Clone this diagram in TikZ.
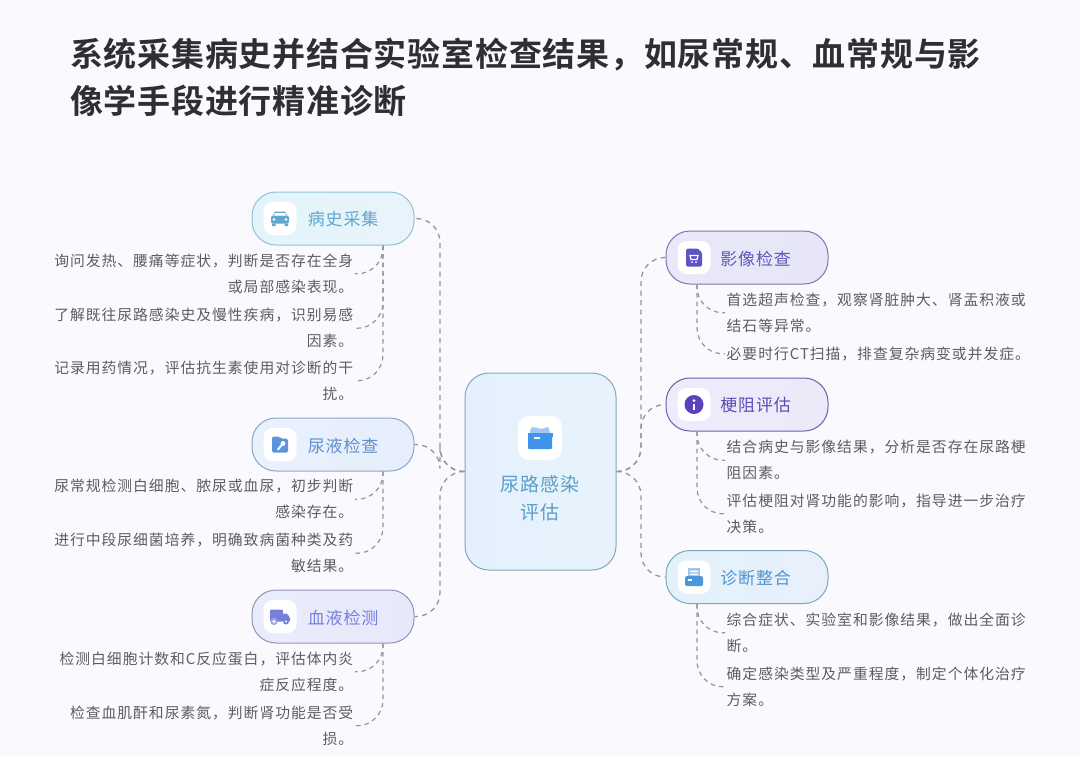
\documentclass[tikz,border=0pt]{standalone}
\usepackage{fontspec}
\usepackage{xcolor}
\usepackage{tikz}
\usetikzlibrary{positioning,calc}
\newfontfamily\bodycjk[LetterSpace=6.7]{Noto Sans CJK SC}
\newfontfamily\labelcjk[LetterSpace=5]{Noto Sans CJK SC}
\newfontfamily\titlecjk[LetterSpace=2.3]{Noto Sans CJK SC Bold}
\definecolor{pagebg}{HTML}{FAFAFE}
\definecolor{titleink}{HTML}{2E2E33}
\definecolor{leafink}{HTML}{5C5C62}
\definecolor{linkgray}{HTML}{94949A}
\definecolor{carblue}{HTML}{5FA8CC}
\definecolor{urineblue}{HTML}{5E93DC}
\definecolor{bloodblue}{HTML}{7580DC}
\definecolor{imgpurple}{HTML}{5E54C4}
\definecolor{blockpurple}{HTML}{5A42BC}
\definecolor{sumblue}{HTML}{4A97DC}
\definecolor{rootblue}{HTML}{3F93E8}
\definecolor{rootink}{HTML}{5B9FC8}
\definecolor{histA}{HTML}{E2F4FB}
\definecolor{histB}{HTML}{EAF3FB}
\definecolor{histline}{HTML}{8FC3D6}
\definecolor{urineA}{HTML}{E8F1FC}
\definecolor{urineB}{HTML}{E6EEFB}
\definecolor{urineline}{HTML}{8BA7C6}
\definecolor{bloodA}{HTML}{E9EDFB}
\definecolor{bloodB}{HTML}{E8E8FA}
\definecolor{bloodline}{HTML}{8F94BC}
\definecolor{imgA}{HTML}{E8E8F8}
\definecolor{imgB}{HTML}{E6E6F8}
\definecolor{imgline}{HTML}{7C78B2}
\definecolor{blockA}{HTML}{EEEBFA}
\definecolor{blockB}{HTML}{ECE9F9}
\definecolor{blockline}{HTML}{6E5FA8}
\definecolor{sumA}{HTML}{E3F1FB}
\definecolor{sumB}{HTML}{E8F0FB}
\definecolor{sumline}{HTML}{7FA6BC}
\definecolor{rootA}{HTML}{E4F1FC}
\definecolor{rootB}{HTML}{E7F2FC}
\definecolor{rootline}{HTML}{7FAAB8}
\tikzset{
  caricon/.pic={
    \fill[carblue] (-7,-3) -- (-5,-7) -- (5,-7) -- (7,-3) -- cycle;
    \fill[carblue,rounded corners=1.5pt] (-9,-3) rectangle (9,5);
    \fill[white] (-5,-5.5) -- (5,-5.5) -- (6,-3) -- (-6,-3) -- cycle;
    \fill[white] (-6,1) circle (1.4) (6,1) circle (1.4);
    \fill[carblue] (-8,5) rectangle (-4.5,7.5) (4.5,5) rectangle (8,7.5);
  },
  foldericon/.pic={
    \fill[urineblue,rounded corners=1.5pt] (-8,-8) -- (-1,-8) -- (1,-6) -- (8,-6) -- (8,8) -- (-8,8) -- cycle;
    \draw[white,line width=2pt,line cap=round] (-2,5) -- (2,0);
    \fill[white] (3,-1) circle (2.4);
  },
  truckicon/.pic={
    \fill[bloodblue,rounded corners=1pt] (-10,-7) rectangle (3,5);
    \fill[bloodblue,rounded corners=1pt] (3,-3) -- (7,-3) -- (10,1) -- (10,5) -- (3,5) -- cycle;
    \fill[bloodblue!70] (-6,5) circle (3.6);
    \fill[white] (-6,5) circle (1.6);
    \fill[bloodblue] (6,5) circle (3);
    \fill[white] (6,5) circle (1.2);
  },
  carticon/.pic={
    \fill[imgpurple,rounded corners=1.5pt] (-8,-9) -- (4,-9) -- (8,-5) -- (8,9) -- (-8,9) -- cycle;
    \draw[white,line width=1.2pt] (-4,-2) -- (4,-2) -- (3,2) -- (-3,2) -- cycle;
    \fill[white] (-2,4.5) circle (1) (2,4.5) circle (1);
  },
  infoicon/.pic={
    \fill[blockpurple] (0,0) circle (9.5);
    \fill[white] (0,-4) circle (1.5);
    \fill[white] (-1.3,-1) rectangle (1.3,5);
  },
  trayicon/.pic={
    \fill[sumblue!55] (-6,-9) rectangle (6,0);
    \fill[white] (-4,-6.5) rectangle (4,-5) (-4,-3.5) rectangle (4,-2);
    \fill[sumblue,rounded corners=1.5pt] (-9,-1) rectangle (9,9);
    \fill[white] (-6,2) rectangle (-2,3.5);
  },
  rooticon/.pic={
    \fill[rootblue!50] (-10,-7) -- (-8,-11) -- (-2,-10) -- (1,-9) -- (8,-11) -- (10,-6) -- (10,0) -- (-10,0) -- cycle;
    \fill[rootblue] (-12.5,-5) rectangle (12.5,-1);
    \fill[rootblue,rounded corners=1pt] (-12,-3) rectangle (12,11);
    \fill[white] (-6,-1) rectangle (0,1);
  },
}
\begin{document}
\begin{tikzpicture}[
  x=1pt,y=-1pt,
  pill/.style={draw,line width=1pt,rounded corners=24pt,minimum width=162pt,minimum height=53pt,inner sep=0pt},
  iconbox/.style={fill=white,rounded corners=9pt,minimum size=33pt,inner sep=0pt},
  pilltext/.style={inner sep=0pt,yshift=-1pt,font=\labelcjk\fontsize{17}{20}\selectfont},
  leafl/.style={anchor=east,align=right,inner xsep=1.5pt,inner ysep=0pt,yshift=-0.8pt,text=leafink,font=\bodycjk\fontsize{14.8}{26}\selectfont},
  leafr/.style={anchor=west,align=left,inner xsep=1.5pt,inner ysep=0pt,yshift=-0.8pt,text=leafink,font=\bodycjk\fontsize{14.8}{26}\selectfont},
  trunk/.style={draw=linkgray,dash pattern=on 5pt off 4.5pt,line width=1.3pt,rounded corners=24pt},
  twig/.style={draw=linkgray,dash pattern=on 4.5pt off 4pt,line width=1.2pt,rounded corners=26pt},
]
\fill[pagebg] (0,0) rectangle (1080,756);

\node[anchor=north west,align=left,inner sep=0pt,text=titleink,font=\titlecjk\fontsize{33}{47}\selectfont] (title) at (70,38)
  {系统采集病史并结合实验室检查结果，如尿常规、血常规与影\\像学手段进行精准诊断};

\node[draw=rootline,left color=rootA,right color=rootB,line width=1pt,rounded corners=24pt,minimum width=151pt,minimum height=197pt,inner sep=0pt] (root) at (540.5,471.5) {};
\node[iconbox,minimum size=44pt,rounded corners=11pt] (rootbox) at (540,438) {};
\pic at (rootbox.center) {rooticon};
\node[below=15pt of rootbox,align=center,inner sep=0pt,text=rootink,font=\labelcjk\fontsize{19}{28}\selectfont] (rootlabel) {尿路感染\\评估};

\node[pill,draw=histline,left color=histA,right color=histB] (history) at (333,218.5) {};
\node[iconbox] (historybox) at (280,218.5) {};
\pic at (historybox.center) {caricon};
\node[pilltext,right=11pt of historybox,text=carblue] {病史采集};

\node[pill,draw=urineline,left color=urineA,right color=urineB] (urine) at (333,444.5) {};
\node[iconbox] (urinebox) at (280,444.5) {};
\pic at (urinebox.center) {foldericon};
\node[pilltext,right=11pt of urinebox,text=urineblue!85!gray] {尿液检查};

\node[pill,draw=bloodline,left color=bloodA,right color=bloodB] (blood) at (333,616.5) {};
\node[iconbox] (bloodbox) at (280,616.5) {};
\pic at (bloodbox.center) {truckicon};
\node[pilltext,right=11pt of bloodbox,text=bloodblue] {血液检测};

\node[pill,draw=imgline,left color=imgA,right color=imgB] (imaging) at (747,257.5) {};
\node[iconbox] (imagingbox) at (694,257.5) {};
\pic at (imagingbox.center) {carticon};
\node[pilltext,right=9.5pt of imagingbox,text=imgpurple!90!gray] {影像检查};

\node[pill,draw=blockline,left color=blockA,right color=blockB] (block) at (747,404.5) {};
\node[iconbox] (blockbox) at (694,404.5) {};
\pic at (blockbox.center) {infoicon};
\node[pilltext,right=9.5pt of blockbox,text=blockpurple!85!gray] {梗阻评估};

\node[pill,draw=sumline,left color=sumA,right color=sumB] (summary) at (747,577) {};
\node[iconbox] (summarybox) at (694,577) {};
\pic at (summarybox.center) {trayicon};
\node[pilltext,right=9.5pt of summarybox,text=sumblue!90!gray] {诊断整合};

\node[leafl] (h1) at (355,273) {询问发热、腰痛等症状，判断是否存在全身\\或局部感染表现。};
\node[leafl] (h2) at (355,327.5) {了解既往尿路感染史及慢性疾病，识别易感\\因素。};
\node[leafl] (h3) at (355,380) {记录用药情况，评估抗生素使用对诊断的干\\扰。};
\node[leafl] (u1) at (355,498.5) {尿常规检测白细胞、脓尿或血尿，初步判断\\感染存在。};
\node[leafl] (u2) at (355,552.5) {进行中段尿细菌培养，明确致病菌种类及药\\敏结果。};
\node[leafl] (b1) at (355,671) {检测白细胞计数和C反应蛋白，评估体内炎\\症反应程度。};
\node[leafl] (b2) at (355,725) {检查血肌酐和尿素氮，判断肾功能是否受\\损。};

\node[leafr] (i1) at (725,312) {首选超声检查，观察肾脏肿大、肾盂积液或\\结石等异常。};
\node[leafr] (i2) at (725,353) {必要时行CT扫描，排查复杂病变或并发症。};
\node[leafr] (k1) at (725,459.5) {结合病史与影像结果，分析是否存在尿路梗\\阻因素。};
\node[leafr] (k2) at (725,513) {评估梗阻对肾功能的影响，指导进一步治疗\\决策。};
\node[leafr] (s1) at (725,632) {综合症状、实验室和影像结果，做出全面诊\\断。};
\node[leafr] (s2) at (725,686) {确定感染类型及严重程度，制定个体化治疗\\方案。};

\coordinate (trunkl) at (440,471.5);
\coordinate (trunkr) at (641,471.5);

\draw[trunk] (root.west) -- (trunkl) |- (history.east);
\draw[trunk] (root.west) -- (trunkl) |- (urine.east);
\draw[trunk] (root.west) -- (trunkl) |- (blood.east);
\draw[trunk] (root.east) -- (trunkr) |- (imaging.west);
\draw[trunk] (root.east) -- (trunkr) |- (block.west);
\draw[trunk] (root.east) -- (trunkr) |- (summary.west);

\draw[twig] ([xshift=50pt]history.south) |- (h1.east);
\draw[twig] ([xshift=50pt]history.south) |- (h2.east);
\draw[twig] ([xshift=50pt]history.south) |- (h3.east);
\draw[twig] ([xshift=50pt]urine.south) |- (u1.east);
\draw[twig] ([xshift=50pt]urine.south) |- (u2.east);
\draw[twig] ([xshift=50pt]blood.south) |- (b1.east);
\draw[twig] ([xshift=50pt]blood.south) |- (b2.east);

\draw[twig] ([xshift=-50pt]imaging.south) |- (i1.west);
\draw[twig] ([xshift=-50pt]imaging.south) |- (i2.west);
\draw[twig] ([xshift=-50pt]block.south) |- (k1.west);
\draw[twig] ([xshift=-50pt]block.south) |- (k2.west);
\draw[twig] ([xshift=-50pt]summary.south) |- (s1.west);
\draw[twig] ([xshift=-50pt]summary.south) |- (s2.west);
\end{tikzpicture}
\end{document}
